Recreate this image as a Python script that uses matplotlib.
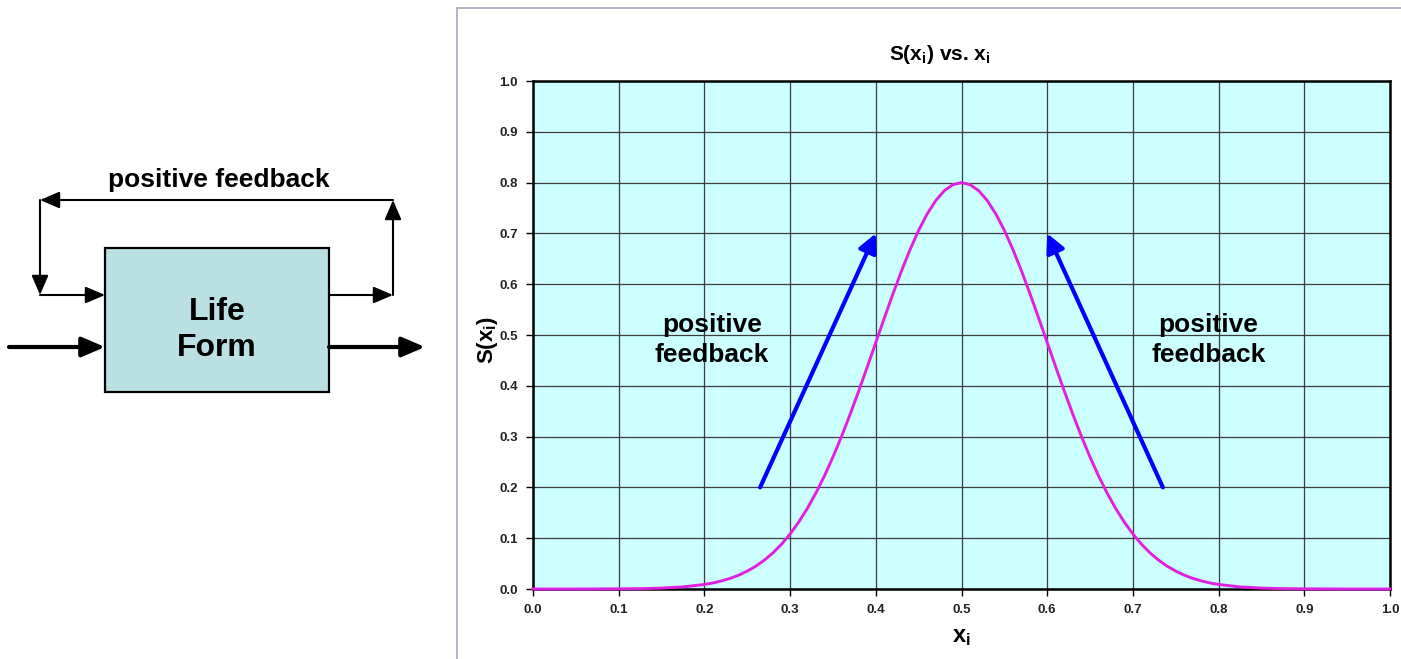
import matplotlib
matplotlib.use("Agg")
import matplotlib.pyplot as plt
from matplotlib.patches import Rectangle

plt.rcParams['font.family'] = ['Liberation Sans', 'DejaVu Sans']
plt.rcParams['mathtext.default'] = 'regular'

# Curve S(x_i) sampled along x_i (dense near the peak, sparse in the flat tails)
x_vals = [0.00, 0.05, 0.10, 0.125, 0.15, 0.175,
          0.20, 0.21, 0.22, 0.23, 0.24, 0.25, 0.26, 0.27, 0.28, 0.29,
          0.30, 0.31, 0.32, 0.33, 0.34, 0.35, 0.36, 0.37, 0.38, 0.39,
          0.40, 0.41, 0.42, 0.43, 0.44, 0.45, 0.46, 0.47, 0.48, 0.49,
          0.50, 0.51, 0.52, 0.53, 0.54, 0.55, 0.56, 0.57, 0.58, 0.59,
          0.60, 0.61, 0.62, 0.63, 0.64, 0.65, 0.66, 0.67, 0.68, 0.69,
          0.70, 0.71, 0.72, 0.73, 0.74, 0.75, 0.76, 0.77, 0.78, 0.79,
          0.80, 0.825, 0.85, 0.875, 0.90, 0.95, 1.00]
s_vals = [0.0000, 0.0000, 0.0003, 0.0007, 0.0018, 0.0041,
          0.0089, 0.0119, 0.0159, 0.0209, 0.0272, 0.0352, 0.0449, 0.0568, 0.0711, 0.0882,
          0.1083, 0.1316, 0.1583, 0.1886, 0.2224, 0.2597, 0.3002, 0.3436, 0.3894, 0.4369,
          0.4852, 0.5336, 0.5809, 0.6262, 0.6682, 0.7060, 0.7385, 0.7648, 0.7842, 0.7960,
          0.8000, 0.7960, 0.7842, 0.7648, 0.7385, 0.7060, 0.6682, 0.6262, 0.5809, 0.5336,
          0.4852, 0.4369, 0.3894, 0.3436, 0.3002, 0.2597, 0.2224, 0.1886, 0.1583, 0.1316,
          0.1083, 0.0882, 0.0711, 0.0568, 0.0449, 0.0352, 0.0272, 0.0209, 0.0159, 0.0119,
          0.0089, 0.0041, 0.0018, 0.0007, 0.0003, 0.0000, 0.0000]

# Feedback arrows on the chart: (start x, start y) -> (end x, end y)
left_arrow = ((0.265, 0.20), (0.400, 0.70))
right_arrow = ((0.735, 0.20), (0.600, 0.70))
label_left = (0.209, 0.49)
label_right = (0.788, 0.49)

ticks = [0.0, 0.1, 0.2, 0.3, 0.4, 0.5, 0.6, 0.7, 0.8, 0.9, 1.0]
tick_labels = ["0.0", "0.1", "0.2", "0.3", "0.4", "0.5", "0.6", "0.7", "0.8", "0.9", "1.0"]

W, H = 1401, 659
fig = plt.figure(figsize=(W / 100, H / 100), dpi=100)

# Background canvas in pixel units for the block diagram and the chart frame
bg = fig.add_axes([0, 0, 1, 1])
bg.set_xlim(0, W)
bg.set_ylim(H, 0)
bg.axis('off')

bg.add_patch(Rectangle((457, 8), 1100, 800, facecolor='white',
                       edgecolor='#a9afc6', lw=1.3))

# Block diagram
bg.add_patch(Rectangle((105, 248), 224, 144, facecolor='#bbe0e3',
                       edgecolor='black', lw=1.6))
bg.text(217, 330, "Life\nForm", ha='center', va='center', fontsize=23,
        fontweight='bold', linespacing=1.3)
bg.text(219, 180, "positive feedback", ha='center', va='center', fontsize=19,
        fontweight='bold')


def arrow(p0, p1, lw, scale):
    bg.annotate("", xy=p1, xytext=p0,
                arrowprops=dict(arrowstyle="-|>,head_length=0.7,head_width=0.3",
                                color='black', lw=lw, shrinkA=0, shrinkB=0,
                                mutation_scale=scale))


arrow((9, 347), (105, 347), 3.0, 20)
arrow((329, 347), (425, 347), 3.0, 20)
arrow((329, 295), (393, 295), 1.5, 17)
arrow((393, 295), (393, 200), 1.5, 17)
arrow((393, 200), (40, 200), 1.5, 17)
arrow((40, 200), (40, 295), 1.5, 17)
arrow((40, 295), (105, 295), 1.5, 17)

# Chart
ax = fig.add_axes([533 / W, (H - 589) / H, (1390 - 533) / W, (589 - 81) / H])
ax.set_facecolor('#ccffff')
ax.set_xlim(0, 1)
ax.set_ylim(0, 1)
ax.set_xticks(ticks)
ax.set_yticks(ticks)
ax.set_xticklabels(tick_labels)
ax.set_yticklabels(tick_labels)
ax.grid(True, color='#3c3c3c', lw=0.9)
ax.set_axisbelow(True)
for sp in ax.spines.values():
    sp.set_linewidth(1.8)
    sp.set_color('black')
ax.tick_params(direction='out', length=5, width=1, colors='black',
               labelcolor='#222222', labelsize=9.5, pad=6)
for lab in ax.get_xticklabels() + ax.get_yticklabels():
    lab.set_fontweight('bold')

ax.plot(x_vals, s_vals, color='#e020e0', lw=2.1, clip_on=False, zorder=3)

for (p0, p1) in (left_arrow, right_arrow):
    ax.annotate("", xy=p1, xytext=p0,
                arrowprops=dict(arrowstyle="-|>,head_length=0.7,head_width=0.35",
                                color='#0000ff', lw=3, shrinkA=0, shrinkB=0,
                                mutation_scale=16), zorder=4)

for (lx, ly) in (label_left, label_right):
    ax.text(lx, ly, "positive\nfeedback", ha='center', va='center', fontsize=19,
            fontweight='bold', linespacing=1.3)

fig.text(940 / W, 1 - 55 / H, "S(x$_i$) vs. x$_i$", ha='center', va='center',
         fontsize=15, fontweight='bold')
fig.text(961 / W, 1 - 637 / H, "x$_i$", ha='center', va='center',
         fontsize=17, fontweight='bold')
fig.text(487 / W, 1 - 340 / H, "S(x$_i$)", ha='center', va='center',
         fontsize=16, fontweight='bold', rotation=90)

fig.savefig("out.png", dpi=100)
